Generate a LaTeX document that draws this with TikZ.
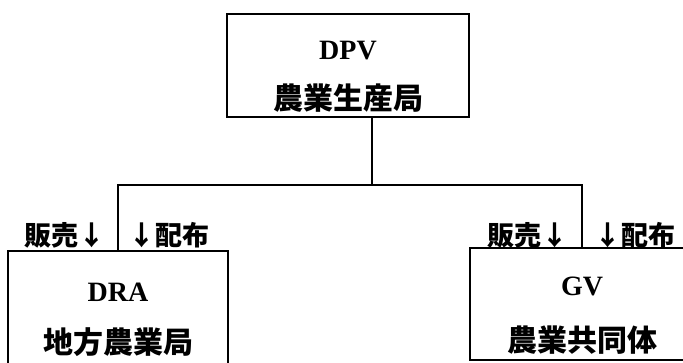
\documentclass[tikz,border=0pt]{standalone}
\usepackage{fontspec}
\setmainfont{Liberation Serif}
\newfontfamily\cjk{Noto Sans CJK JP}
\begin{document}
\begin{tikzpicture}[x=1pt,y=1pt,
  orgbox/.style={draw,line width=2.6pt,rectangle,inner sep=0pt},
  conn/.style={line width=2pt},
  romantxt/.style={font=\rmfamily\bfseries\fontsize{28}{30}\selectfont},
  kanji/.style={font=\cjk\bfseries\fontsize{30}{32}\selectfont},
  flowlbl/.style={font=\cjk\bfseries\fontsize{27}{29}\selectfont,inner sep=0pt}]
\useasboundingbox (0,0) rectangle (683,363);
\clip (0,0) rectangle (683,363);
\fill[white] (0,0) rectangle (683,363);
% boxes
\node[orgbox,minimum width=242pt,minimum height=103pt] (dpv) at (348,297.5) {};
\node[orgbox,minimum width=220pt,minimum height=118pt] (dra) at (118,53) {};
\node[orgbox,minimum width=224pt,minimum height=112pt] (gv) at (582,59) {};
% texts
\node[romantxt] (dpvt) at (348,312) {DPV};
\node[kanji] (dpvk) at (348,265) {農業生産局};
\node[romantxt] (drat) at (118,71) {DRA};
\node[kanji] (drak) at (118,21) {地方農業局};
\node[romantxt] (gvt) at (582,77) {GV};
\node[kanji] (gvk) at (582,23) {農業共同体};
% connectors
\coordinate (j) at (372,178);
\draw[conn] (dpv.south -| j) -- (j);
\draw[conn] (dra.north) |- (j) -| (gv.north);
% labels
\node[flowlbl,anchor=east] (l1) at (106,128) {販売↓};
\node[flowlbl,anchor=west] (l2) at (128,128) {↓配布};
\node[flowlbl,anchor=east] (l3) at (569,128) {販売↓};
\node[flowlbl,anchor=west] (l4) at (594,128) {↓配布};
\end{tikzpicture}
\end{document}
